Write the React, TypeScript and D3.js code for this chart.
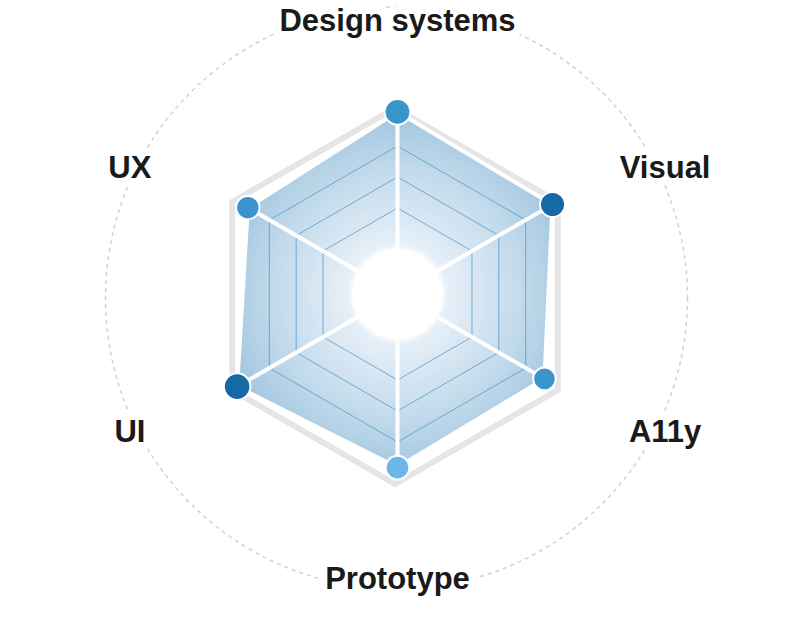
import React from "react";
import * as d3 from "d3";

const categories = ["Design systems", "Visual", "A11y", "Prototype", "UI", "UX"];
const scores = [82, 80, 74, 76.5, 84, 76];
const tiers = [2, 3, 2, 1, 3, 2];
const gridLevels = [20, 40, 60];

const W = 800;
const H = 620;
const cx = 397.5;
const cy = 294;

export default function App() {
  const r = d3.scaleLinear().domain([0, 100]).range([55, 210]);
  const angle = d3.scaleLinear().domain([0, categories.length]).range([0, 2 * Math.PI]);
  const size = d3.scaleLinear().domain([74, 84]).range([11.3, 13.3]);
  const color = d3.scaleOrdinal<number, string>().domain([1, 2, 3]).range(["#6cb7e7", "#3b94cb", "#156aa5"]);

  const pt = (i: number, rad: number, ox = 0, oy = 0): [number, number] => {
    const a = angle(i);
    return [cx + ox + rad * Math.sin(a), cy + oy - rad * Math.cos(a)];
  };

  const line = d3.line().curve(d3.curveLinearClosed);
  const dataPts = scores.map((v, i) => pt(i, r(v)));
  const dataPath = line(dataPts) as string;
  const hexPath = (rad: number, ox = 0, oy = 0) => line(categories.map((_, i) => pt(i, rad, ox, oy))) as string;

  const frameR = 188;
  const innerR = 45.5;
  const labelRx = 309;

  return (
    <svg width={W} height={H} style={{ position: "fixed", left: 0, top: 0, display: "block", background: "#fff" }}>
      <defs>
        <radialGradient id="fillGrad" gradientUnits="userSpaceOnUse" cx={cx} cy={cy} r={195}>
          <stop offset="0" stopColor="#ffffff" />
          <stop offset="0.25" stopColor="#e7f0f8" />
          <stop offset="0.6" stopColor="#c6dcec" />
          <stop offset="1" stopColor="#99c1dd" />
        </radialGradient>
        <clipPath id="dataClip">
          <path d={dataPath} />
        </clipPath>
        <filter id="glow" x="-50%" y="-50%" width="200%" height="200%">
          <feGaussianBlur stdDeviation="2" />
        </filter>
      </defs>

      <circle cx={cx - 1} cy={cy + 4} r={291} fill="none" stroke="#d2d2d2" strokeWidth={1.5} strokeDasharray="4 4" />

      <path d={hexPath(frameR, -2.5, 2)} fill="none" stroke="#e5e5e5" strokeWidth={6} strokeLinejoin="miter" />

      <path d={dataPath} fill="url(#fillGrad)" />
      <g clipPath="url(#dataClip)">
        {gridLevels.map((lv) => (
          <path key={lv} d={hexPath(r(lv))} fill="none" stroke="#3d8cc6" strokeOpacity={0.65} strokeWidth={1} />
        ))}
      </g>
      <path d={dataPath} fill="none" stroke="#ffffff" strokeWidth={4} strokeLinejoin="round" />

      {dataPts.map((p, i) => {
        const s = pt(i, innerR);
        return <line key={"s" + i} x1={s[0]} y1={s[1]} x2={p[0]} y2={p[1]} stroke="#ffffff" strokeWidth={4} />;
      })}

      <circle cx={cx} cy={cy} r={innerR + 1} fill="#ffffff" filter="url(#glow)" />
      <circle cx={cx} cy={cy} r={innerR - 0.5} fill="#ffffff" />

      {dataPts.map((p, i) => (
        <circle key={"d" + i} cx={p[0]} cy={p[1]} r={size(scores[i])} fill={color(tiers[i])} stroke="#ffffff" strokeWidth={2} />
      ))}

      {categories.map((c, i) => {
        const a = angle(i);
        const ca = Math.cos(a);
        const ry = Math.abs(ca) > 0.9 ? 279 : 264;
        const x = cx + labelRx * Math.sin(a);
        const y = cy + 5 - ry * ca;
        return (
          <text
            key={"l" + i}
            x={x}
            y={y}
            textAnchor="middle"
            dominantBaseline="central"
            fontFamily="'Liberation Sans', Arial, Helvetica, sans-serif"
            fontWeight={700}
            fontSize={31}
            fill="#1a1a1a"
            stroke="#ffffff"
            strokeWidth={16}
            strokeLinejoin="round"
            style={{ paintOrder: "stroke" }}
          >
            {c}
          </text>
        );
      })}
    </svg>
  );
}
